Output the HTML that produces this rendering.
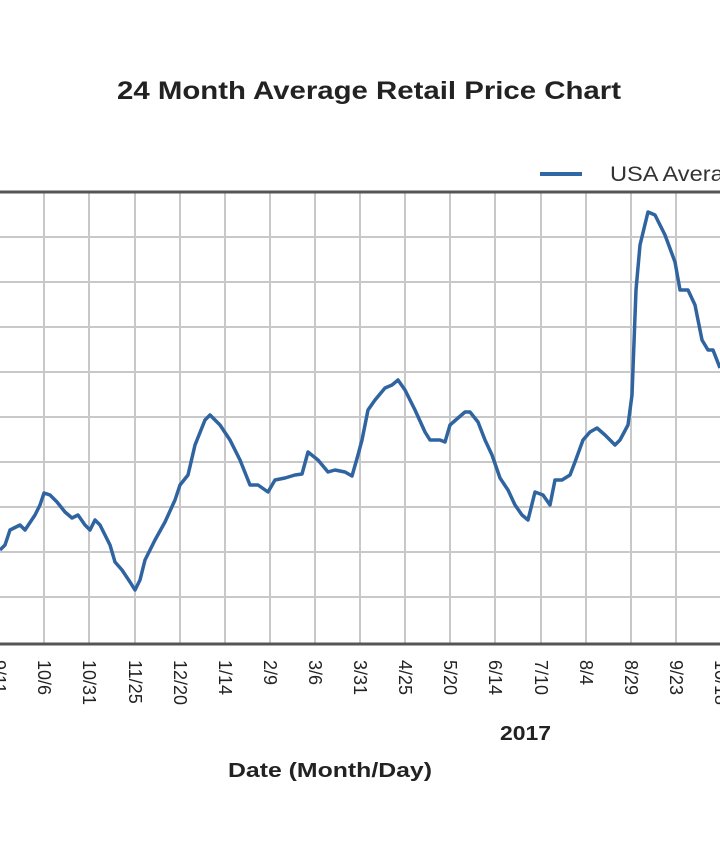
<!DOCTYPE html>
<html><head><meta charset="utf-8"><style>
html,body{margin:0;padding:0;background:#fff;width:720px;height:845px;overflow:hidden}
svg{display:block;font-family:"Liberation Sans",Arial,sans-serif}
</style></head><body>
<svg width="720" height="845" viewBox="0 0 720 845">
<text x="117" y="99" font-size="25" font-weight="bold" fill="#222" textLength="504" lengthAdjust="spacingAndGlyphs">24 Month Average Retail Price Chart</text>
<line x1="540" y1="174" x2="582" y2="174" stroke="#2f68a3" stroke-width="4"/>
<text x="610" y="181" font-size="21" fill="#333" textLength="140" lengthAdjust="spacingAndGlyphs">USA Average</text>
<g stroke="#c8c8c8" stroke-width="2">
<line x1="0" y1="237" x2="720" y2="237"/><line x1="0" y1="282" x2="720" y2="282"/>
<line x1="0" y1="327" x2="720" y2="327"/><line x1="0" y1="372" x2="720" y2="372"/>
<line x1="0" y1="417" x2="720" y2="417"/><line x1="0" y1="462" x2="720" y2="462"/>
<line x1="0" y1="507" x2="720" y2="507"/><line x1="0" y1="552" x2="720" y2="552"/>
<line x1="0" y1="597" x2="720" y2="597"/>
<line x1="44" y1="192" x2="44" y2="643"/><line x1="89" y1="192" x2="89" y2="643"/>
<line x1="135" y1="192" x2="135" y2="643"/><line x1="180" y1="192" x2="180" y2="643"/>
<line x1="225" y1="192" x2="225" y2="643"/><line x1="270" y1="192" x2="270" y2="643"/>
<line x1="315" y1="192" x2="315" y2="643"/><line x1="360" y1="192" x2="360" y2="643"/>
<line x1="405" y1="192" x2="405" y2="643"/><line x1="450" y1="192" x2="450" y2="643"/>
<line x1="495" y1="192" x2="495" y2="643"/><line x1="541" y1="192" x2="541" y2="643"/>
<line x1="586" y1="192" x2="586" y2="643"/><line x1="631" y1="192" x2="631" y2="643"/>
<line x1="676" y1="192" x2="676" y2="643"/>
</g>
<line x1="0" y1="192" x2="720" y2="192" stroke="#555" stroke-width="3"/>
<line x1="0" y1="644" x2="720" y2="644" stroke="#555" stroke-width="3"/>
<polyline fill="none" stroke="#2f64a0" stroke-width="3.5" stroke-linejoin="round" points="0,550 5,545 10,530 20,525 25,530 35,515 40,505 44,493 50,495 57,502 65,512 72,518 78,515 85,525 90,530 95,520 100,525 110,545 115,562 122,570 130,582 135,590 140,580 145,560 155,540 165,522 175,500 180,485 188,475 195,445 205,420 210,415 220,425 230,440 240,460 250,485 258,485 268,492 275,480 285,478 295,475 302,474 308,452 318,460 328,472 335,470 345,472 352,476 358,455 362,440 368,410 375,400 385,388 392,385 398,380 405,390 415,410 425,432 430,440 440,440 445,442 450,425 458,418 465,412 470,412 478,422 485,440 492,455 500,478 508,490 515,505 522,515 528,520 535,492 543,495 550,505 555,480 562,480 570,475 575,462 583,440 590,432 597,428 605,435 615,445 620,440 628,425 632,395 636,290 640,245 648,212 655,215 665,235 675,262 680,290 688,290 695,305 702,340 708,350 713,350 720,368"/>
<g font-size="18" fill="#222">
<text transform="translate(-7,660) rotate(90)">9/11</text>
<text transform="translate(38,660) rotate(90)">10/6</text>
<text transform="translate(83,660) rotate(90)">10/31</text>
<text transform="translate(129,660) rotate(90)">11/25</text>
<text transform="translate(174,660) rotate(90)">12/20</text>
<text transform="translate(219,660) rotate(90)">1/14</text>
<text transform="translate(264,660) rotate(90)">2/9</text>
<text transform="translate(309,660) rotate(90)">3/6</text>
<text transform="translate(354,660) rotate(90)">3/31</text>
<text transform="translate(399,660) rotate(90)">4/25</text>
<text transform="translate(444,660) rotate(90)">5/20</text>
<text transform="translate(489,660) rotate(90)">6/14</text>
<text transform="translate(535,660) rotate(90)">7/10</text>
<text transform="translate(580,660) rotate(90)">8/4</text>
<text transform="translate(625,660) rotate(90)">8/29</text>
<text transform="translate(670,660) rotate(90)">9/23</text>
<text transform="translate(715,660) rotate(90)">10/18</text>
</g>
<text x="500" y="740" font-size="20" font-weight="bold" fill="#222" textLength="51" lengthAdjust="spacingAndGlyphs">2017</text>
<text x="228" y="777" font-size="20" font-weight="bold" fill="#222" textLength="204" lengthAdjust="spacingAndGlyphs">Date (Month/Day)</text>
</svg>
</body></html>
